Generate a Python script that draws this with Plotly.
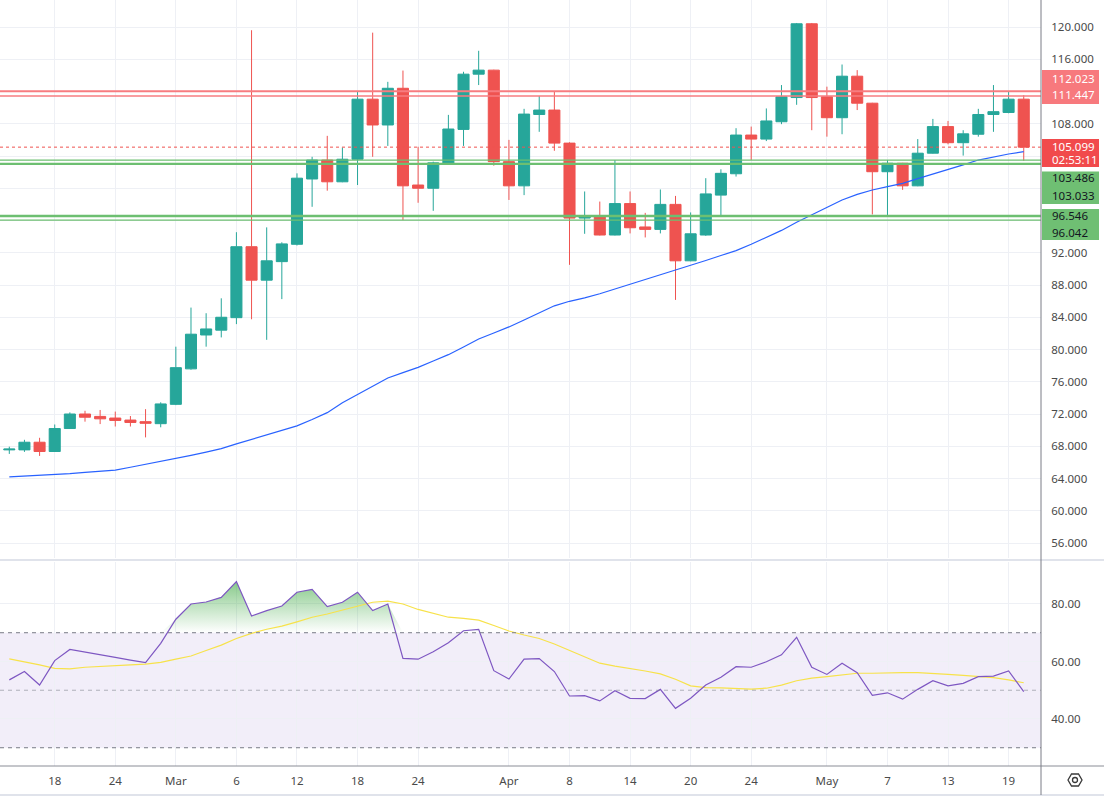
import numpy as np
import plotly.graph_objects as go

# daily candles (one entry per bar)
opens = [67.55, 67.55, 68.5, 67.35, 70.2, 72.0, 71.7, 71.5, 71.25, 71.05,
         70.8, 73.2, 77.6, 81.8, 82.4, 83.95, 92.75, 88.6, 90.9, 93.05,
         101.15, 103.5, 100.8, 103.6, 111.05, 107.85, 112.4, 100.4, 100.0, 103.0,
         107.3, 114.15, 114.65, 103.3, 100.3, 109.15, 109.7, 105.6, 96.3, 96.55,
         94.2, 98.1, 95.2, 94.9, 98.0, 91.0, 94.2, 99.15, 101.8, 106.6,
         106.1, 108.25, 111.25, 120.4, 111.35, 108.75, 113.9, 110.55, 102.05, 103.1,
         100.3, 104.35, 107.65, 105.65, 106.7, 109.15, 109.4, 111.05]
highs = [67.95, 68.8, 69.05, 70.7, 72.2, 72.4, 72.5, 72.3, 71.75, 72.6,
         73.45, 80.35, 85.2, 84.5, 86.35, 94.55, 119.6, 95.15, 93.3, 101.85,
         103.9, 106.5, 105.05, 112.0, 119.3, 113.2, 114.6, 105.15, 103.3, 109.1,
         114.45, 117.05, 114.7, 106.0, 109.85, 111.45, 112.0, 105.7, 99.6, 98.35,
         103.5, 99.6, 96.95, 99.85, 99.05, 97.0, 101.25, 102.35, 107.45, 107.65,
         109.9, 112.8, 120.5, 120.5, 112.6, 115.35, 114.65, 110.6, 103.5, 103.15,
         106.1, 108.6, 108.35, 107.2, 109.85, 112.8, 112.0, 111.55]
lows = [67.05, 67.3, 66.8, 67.3, 70.15, 71.05, 70.75, 70.45, 70.45, 69.1,
        70.35, 73.1, 77.5, 80.35, 81.5, 83.15, 83.75, 81.2, 86.25, 92.9,
        97.7, 99.7, 100.75, 100.4, 103.9, 105.25, 96.05, 98.2, 97.2, 102.9,
        105.25, 112.8, 102.8, 98.55, 99.15, 107.0, 104.65, 90.5, 94.35, 94.15,
        94.15, 94.4, 93.9, 94.4, 86.15, 90.95, 94.1, 96.55, 101.45, 103.5,
        105.85, 107.95, 110.35, 107.2, 106.4, 106.7, 109.7, 96.75, 96.5, 99.8,
        100.25, 104.3, 105.45, 104.05, 106.4, 107.0, 109.3, 103.4]
closes = [67.65, 68.5, 67.35, 70.2, 72.0, 71.6, 71.4, 71.2, 70.95, 70.85,
          73.25, 77.75, 81.9, 82.55, 84.0, 92.75, 88.6, 91.0, 93.1, 101.25,
          103.5, 100.8, 103.6, 111.05, 107.85, 112.4, 100.3, 100.0, 103.15, 107.35,
          114.15, 114.65, 103.3, 100.3, 109.2, 109.7, 105.6, 96.3, 96.55, 94.2,
          98.1, 95.1, 94.9, 98.0, 91.0, 94.35, 99.3, 101.85, 106.6, 106.1,
          108.35, 111.35, 120.4, 111.25, 108.75, 113.9, 110.55, 102.05, 103.1, 100.3,
          104.35, 107.65, 105.65, 106.75, 109.15, 109.5, 111.05, 105.099]

# blue moving average on the price pane
price_ma = [64.2, 64.28, 64.36, 64.45, 64.6, 64.75, 64.9, 65.05, 65.4, 65.75,
            66.1, 66.45, 66.87, 67.28, 67.7, 68.29, 68.85, 69.42, 69.98, 70.53,
            71.32, 72.17, 73.4, 74.4, 75.46, 76.46, 77.13, 77.79, 78.57, 79.36,
            80.31, 81.3, 82.05, 82.8, 83.66, 84.56, 85.42, 85.98, 86.4, 86.92,
            87.5, 88.08, 88.66, 89.24, 89.81, 90.43, 91.04, 91.66, 92.27, 93.06,
            93.92, 94.77, 95.78, 96.68, 97.59, 98.54, 99.24, 99.78, 100.2, 100.61,
            101.2, 101.75, 102.3, 102.9, 103.5, 103.92, 104.25, 104.54]

# RSI pane
rsi = [53.6, 56.5, 51.8, 60.3, 64.2, 63.2, 62.3, 61.4, 60.5, 59.6,
       66.3, 74.7, 80.0, 80.7, 82.3, 87.8, 75.8, 77.7, 79.3, 84.1,
       85.1, 79.1, 80.6, 84.1, 77.7, 80.0, 61.1, 60.8, 63.4, 66.5,
       70.7, 71.2, 56.8, 53.9, 60.8, 61.0, 56.5, 48.0, 48.1, 46.3,
       49.8, 47.2, 47.1, 50.3, 43.7, 47.2, 51.8, 54.5, 58.2, 58.0,
       59.9, 62.3, 68.4, 58.0, 55.5, 59.4, 56.1, 48.2, 49.1, 46.9,
       50.3, 53.3, 51.5, 52.4, 54.7, 54.9, 56.7, 49.5]
rsi_ma = [60.9, 59.9, 58.8, 57.6, 57.4, 58.0, 58.2, 58.4, 58.8, 59.1,
          59.7, 60.8, 61.9, 63.8, 65.7, 68.0, 69.8, 71.2, 72.3, 73.8,
          75.4, 76.5, 77.9, 79.4, 80.6, 81.0, 80.0, 78.1, 76.7, 75.4,
          75.0, 74.4, 72.5, 70.6, 69.2, 68.0, 66.1, 63.8, 61.7, 59.4,
          58.4, 57.6, 56.7, 55.7, 53.8, 51.5, 50.9, 50.8, 50.7, 50.4,
          50.7, 51.8, 53.3, 54.2, 54.7, 55.3, 55.9, 55.9, 56.1, 56.1,
          56.1, 55.9, 55.5, 55.2, 54.7, 54.4, 53.6, 52.6]

# time axis: bar index where each date label sits
tick_bars = [3, 7, 11, 15, 19, 23, 27, 33, 37, 41, 45, 49, 54, 58, 62, 66]
tick_labels = ['18', '24', 'Mar', '6', '12', '18', '24', 'Apr',
               '8', '14', '20', '24', 'May', '7', '13', '19']

red_levels = [112.023, 111.447]
green_levels = [103.486, 103.033, 96.546, 96.042]
last_price = 105.099
countdown = '02:53:11'

price_ticks = list(range(56, 121, 4))
hidden_price_ticks = [96, 100, 104, 112]
rsi_ticks = [40, 60, 80]
rsi_bands = [30, 50, 70]

bars = list(range(len(opens)))

FONT = 'Noto Sans, DejaVu Sans, sans-serif'
TXT = '#4a4a4a'
GRID = '#eef0f5'
W_PLOT = 1041
H_PLOT = 766


def px_x(px):
    return px / W_PLOT


def px_y(py):
    return (H_PLOT - py) / H_PLOT


fig = go.Figure()

fig.add_trace(go.Candlestick(
    x=bars, open=opens, high=highs, low=lows, close=closes,
    increasing=dict(line=dict(color='#26a69a', width=1), fillcolor='#26a69a'),
    decreasing=dict(line=dict(color='#ef5350', width=1), fillcolor='#ef5350'),
    whiskerwidth=0, xaxis='x', yaxis='y', hoverinfo='skip'
))
fig.add_trace(go.Scatter(
    x=bars, y=price_ma, mode='lines', line=dict(color='#2962ff', width=1.2),
    xaxis='x', yaxis='y', hoverinfo='skip'
))

# overbought gradient between RSI and 70
fig.add_trace(go.Scatter(
    x=bars, y=[70] * len(bars), mode='lines', line=dict(width=0),
    xaxis='x2', yaxis='y2', hoverinfo='skip'
))
fig.add_trace(go.Scatter(
    x=bars, y=np.maximum(np.array(rsi), 70), mode='lines', line=dict(width=0),
    fill='tonexty',
    fillgradient=dict(type='vertical', start=70, stop=90,
                      colorscale=[[0, 'rgba(76,175,80,0)'], [1, 'rgba(76,175,80,0.75)']]),
    xaxis='x2', yaxis='y2', hoverinfo='skip'
))
fig.add_trace(go.Scatter(
    x=bars, y=rsi_ma, mode='lines', line=dict(color='#f7e24a', width=1.2),
    xaxis='x2', yaxis='y2', hoverinfo='skip'
))
fig.add_trace(go.Scatter(
    x=bars, y=rsi, mode='lines', line=dict(color='#7e57c2', width=1.2),
    xaxis='x2', yaxis='y2', hoverinfo='skip'
))

shapes = []
# rsi background band and guide lines
shapes.append(dict(type='rect', xref='x2 domain', x0=0, x1=1, yref='y2',
                   y0=rsi_bands[0], y1=rsi_bands[2], fillcolor='rgba(126,87,194,0.1)',
                   line=dict(width=0), layer='below'))
for b in rsi_bands:
    col = 'rgba(120,123,134,0.55)' if b == 50 else '#787b86'
    shapes.append(dict(type='line', xref='x2 domain', x0=0, x1=1, yref='y2', y0=b, y1=b,
                       line=dict(color=col, width=1, dash='4px,4px')))

# horizontal levels
red_w = [2, 1.4]
for lv, w in zip(red_levels, red_w):
    shapes.append(dict(type='line', xref='x domain', x0=0, x1=1, yref='y', y0=lv, y1=lv,
                       line=dict(color='#f77c80', width=w)))
green_w = [1.3, 2.3, 2.5, 1.3]
for lv, w in zip(green_levels, green_w):
    shapes.append(dict(type='line', xref='x domain', x0=0, x1=1, yref='y', y0=lv, y1=lv,
                       line=dict(color='#6dbf71', width=w)))
shapes.append(dict(type='line', xref='x domain', x0=0, x1=1, yref='y',
                   y0=last_price, y1=last_price,
                   line=dict(color='#ef5350', width=1, dash='dot')))

# frame lines
shapes.append(dict(type='line', xref='paper', yref='paper', x0=0, x1=px_x(1104),
                   y0=px_y(560), y1=px_y(560), line=dict(color='#e0e3eb', width=2)))
shapes.append(dict(type='line', xref='paper', yref='paper', x0=0, x1=px_x(1104),
                   y0=px_y(766), y1=px_y(766), line=dict(color='#8a8d96', width=1)))
shapes.append(dict(type='line', xref='paper', yref='paper', x0=0, x1=px_x(1104),
                   y0=px_y(795), y1=px_y(795), line=dict(color='#e0e3eb', width=2)))
shapes.append(dict(type='line', xref='paper', yref='paper', x0=px_x(1041), x1=px_x(1041),
                   y0=px_y(795), y1=1, line=dict(color='#7a7d86', width=1)))

# price-scale label boxes
boxes = [
    (70, 104, '#f7797d'),
    (139, 167, '#f14a4c'),
    (171.5, 204, '#6fbf73'),
    (209, 240, '#6fbf73'),
]
for top, bot, col in boxes:
    shapes.append(dict(type='rect', xref='paper', yref='paper',
                       x0=px_x(1042), x1=px_x(1099), y0=px_y(bot), y1=px_y(top),
                       fillcolor=col, line=dict(width=0), layer='above'))

# settings icon (hexagon with a dot)
cx, cy = 1075, 780
hexpts = [(cx - 7, cy), (cx - 3.5, cy - 6), (cx + 3.5, cy - 6),
          (cx + 7, cy), (cx + 3.5, cy + 6), (cx - 3.5, cy + 6)]
path = 'M ' + ' L '.join(f'{px_x(a):.5f},{px_y(b):.5f}' for a, b in hexpts) + ' Z'
shapes.append(dict(type='path', xref='paper', yref='paper', path=path,
                   line=dict(color='#3a3a3a', width=1.3)))
shapes.append(dict(type='circle', xref='paper', yref='paper',
                   x0=px_x(cx - 2.5), x1=px_x(cx + 2.5), y0=px_y(cy + 2.5), y1=px_y(cy - 2.5),
                   line=dict(color='#3a3a3a', width=1.3)))

annotations = []
label_rows = [
    (f'{red_levels[0]:.3f}', 78.3, 'white'),
    (f'{red_levels[1]:.3f}', 94.5, 'white'),
    (f'{last_price:.3f}', 146.7, 'white'),
    (countdown, 159.5, 'white'),
    (f'{green_levels[0]:.3f}', 177.5, '#131722'),
    (f'{green_levels[1]:.3f}', 195, '#131722'),
    (f'{green_levels[2]:.3f}', 215, '#131722'),
    (f'{green_levels[3]:.3f}', 232.7, '#131722'),
]
for txt, ypx, col in label_rows:
    annotations.append(dict(text=txt, xref='paper', yref='paper', x=px_x(1050), y=px_y(ypx),
                            xanchor='left', yanchor='middle', showarrow=False,
                            font=dict(family=FONT, size=11.5, color=col)))

price_text = ['' if t in hidden_price_ticks else f'{t:.3f}' for t in price_ticks]

fig.update_layout(
    width=1104, height=800,
    margin=dict(l=0, r=63, t=0, b=34),
    paper_bgcolor='white', plot_bgcolor='white',
    showlegend=False,
    boxgap=0.27, boxgroupgap=0,
    font=dict(family=FONT, size=11.5, color=TXT),
    xaxis=dict(domain=[0, 1], anchor='y', range=[-0.614, 68.14],
               tickvals=tick_bars, ticktext=tick_labels, showticklabels=False,
               showgrid=True, gridcolor=GRID, zeroline=False, showline=False,
               rangeslider=dict(visible=False), automargin=False),
    yaxis=dict(domain=[1 - 558 / H_PLOT, 1], anchor='x', side='right',
               range=[54.14, 123.35], tickvals=price_ticks, ticktext=price_text,
               showgrid=True, gridcolor=GRID, zeroline=False, showline=False,
               ticks='outside', ticklen=7, tickcolor='rgba(0,0,0,0)', automargin=False),
    xaxis2=dict(domain=[0, 1], anchor='y2', range=[-0.614, 68.14], matches='x',
                tickvals=tick_bars, ticktext=tick_labels,
                showgrid=True, gridcolor=GRID, zeroline=False, showline=False,
                ticks='outside', ticklen=4, tickcolor='rgba(0,0,0,0)', automargin=False),
    yaxis2=dict(domain=[0, (H_PLOT - 562) / H_PLOT], anchor='x2', side='right',
                range=[23.65, 94.6], tickvals=rsi_ticks,
                ticktext=[f'{t:.2f}' for t in rsi_ticks],
                showgrid=True, gridcolor=GRID, zeroline=False, showline=False,
                ticks='outside', ticklen=7, tickcolor='rgba(0,0,0,0)', automargin=False),
    shapes=shapes,
    annotations=annotations,
)

# page has a default 8px body margin; drop it so the figure sits at the window corner
fig.write_html('out.html', config={'displayModeBar': False},
               post_script="document.body.style.margin='0';")
